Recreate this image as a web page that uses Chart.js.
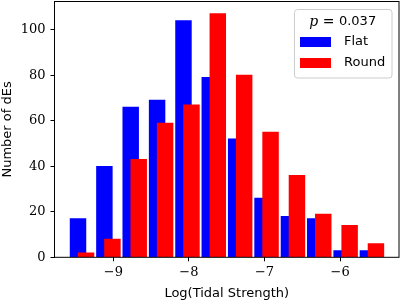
<!DOCTYPE html>
<html>
<head>
<meta charset="utf-8">
<script src="https://cdn.jsdelivr.net/npm/chart.js@4.4.0/dist/chart.umd.min.js"></script>
<style>
  html, body { margin: 0; padding: 0; background: #fff; }
</style>
</head>
<body>
<canvas id="histChart" width="400" height="304"></canvas>
<script>
// bar centres in Log(Tidal Strength)
const flatCenters = [-9.467, -9.118, -8.770, -8.421, -8.072, -7.724, -7.375, -7.026, -6.677, -6.329, -5.980, -5.632];
const flatCounts = [17, 40, 66, 69, 104, 79, 52, 26, 18, 17, 3, 3];
const roundCenters = [-9.361, -9.012, -8.664, -8.315, -7.966, -7.618, -7.269, -6.920, -6.571, -6.223, -5.874, -5.526];
const roundCounts = [2, 8, 43, 59, 67, 107, 80, 55, 36, 19, 14, 6];
const xTicks = [-9, -8, -7, -6];
const yTicks = [0, 20, 40, 60, 80, 100];
const pValue = '0.037';

const tickFont = { family: '"DejaVu Serif"', size: 13 };
const labelFont = { family: '"DejaVu Sans"', size: 13 };

function minus(v) {
  return v < 0 ? '\u2212' + Math.abs(v) : String(v);
}

// black box round the plot, like matplotlib spines
const framePlugin = {
  id: 'frame',
  afterDatasetsDraw(chart) {
    const { ctx, chartArea: a } = chart;
    ctx.save();
    ctx.strokeStyle = '#000';
    ctx.lineWidth = 1;
    ctx.strokeRect(a.left, a.top, a.right - a.left, a.bottom - a.top);
    ctx.restore();
  }
};

// legend box in the top right corner with the p value as title
const legendBox = {
  id: 'legendBox',
  afterDraw(chart) {
    const ctx = chart.ctx;
    const x = 294, y = 9, w = 97.5, h = 68.5;
    ctx.save();
    ctx.beginPath();
    ctx.roundRect(x + 0.5, y + 0.5, w, h, 3);
    ctx.fillStyle = 'rgba(255,255,255,0.8)';
    ctx.fill();
    ctx.strokeStyle = '#cccccc';
    ctx.lineWidth = 1;
    ctx.stroke();

    // title: italic p, " = ", number
    const parts = [
      { t: 'p', f: 'italic 14px "DejaVu Serif"' },
      { t: ' = ', f: '14px "DejaVu Serif"' },
      { t: pValue, f: '13px "DejaVu Sans"' }
    ];
    let total = 0;
    parts.forEach(p => { ctx.font = p.f; p.w = ctx.measureText(p.t).width; total += p.w; });
    let tx = x + w / 2 - total / 2;
    ctx.fillStyle = '#000';
    ctx.textBaseline = 'middle';
    parts.forEach(p => { ctx.font = p.f; ctx.fillText(p.t, tx, 22); tx += p.w; });

    chart.data.datasets.forEach((ds, i) => {
      const ry = 42 + i * 21;
      ctx.fillStyle = ds.backgroundColor;
      ctx.fillRect(300, ry - 5, 31, 10);
      ctx.fillStyle = '#000';
      ctx.font = '13px "DejaVu Sans"';
      ctx.fillText(ds.label, 344, ry);
    });
    ctx.restore();
  }
};

new Chart(document.getElementById('histChart'), {
  type: 'bar',
  data: {
    datasets: [
      {
        label: 'Flat',
        data: flatCenters.map((x, i) => ({ x: x, y: flatCounts[i] })),
        backgroundColor: '#0000ff',
        order: 1
      },
      {
        label: 'Round',
        data: roundCenters.map((x, i) => ({ x: x, y: roundCounts[i] })),
        backgroundColor: '#ff0000',
        order: 0
      }
    ]
  },
  options: {
    responsive: false,
    animation: false,
    devicePixelRatio: 1,
    grouped: false,
    barThickness: 15.8,
    borderWidth: 0,
    layout: { padding: { top: 1.5, right: 1, left: 0, bottom: 0 } },
    plugins: {
      legend: { display: false },
      tooltip: { enabled: false }
    },
    scales: {
      x: {
        type: 'linear',
        offset: false,
        min: -9.778,
        max: -5.221,
        afterBuildTicks: s => { s.ticks = xTicks.map(v => ({ value: v })); },
        afterFit: s => { s.height = 46.7; s.paddingLeft = 0; s.paddingRight = 0; },
        grid: { display: true, offset: false, drawOnChartArea: false, drawTicks: true, tickLength: 4, color: '#000' },
        border: { display: false },
        ticks: { color: '#000', font: tickFont, padding: 4, maxRotation: 0, callback: v => minus(v) },
        title: { display: true, text: 'Log(Tidal Strength)', color: '#000', font: labelFont, padding: { top: 0, bottom: 3 } }
      },
      y: {
        min: 0,
        max: 112.35,
        afterBuildTicks: s => { s.ticks = yTicks.map(v => ({ value: v })); },
        afterFit: s => { s.width = 54.5; s.paddingTop = 0; s.paddingBottom = 0; },
        grid: { display: true, drawOnChartArea: false, drawTicks: true, tickLength: 4, color: '#000' },
        border: { display: false },
        ticks: { color: '#000', font: tickFont, padding: 5, callback: v => minus(v) },
        title: { display: true, text: 'Number of dEs', color: '#000', font: labelFont, padding: 0 }
      }
    }
  },
  plugins: [framePlugin, legendBox]
});
</script>
</body>
</html>
